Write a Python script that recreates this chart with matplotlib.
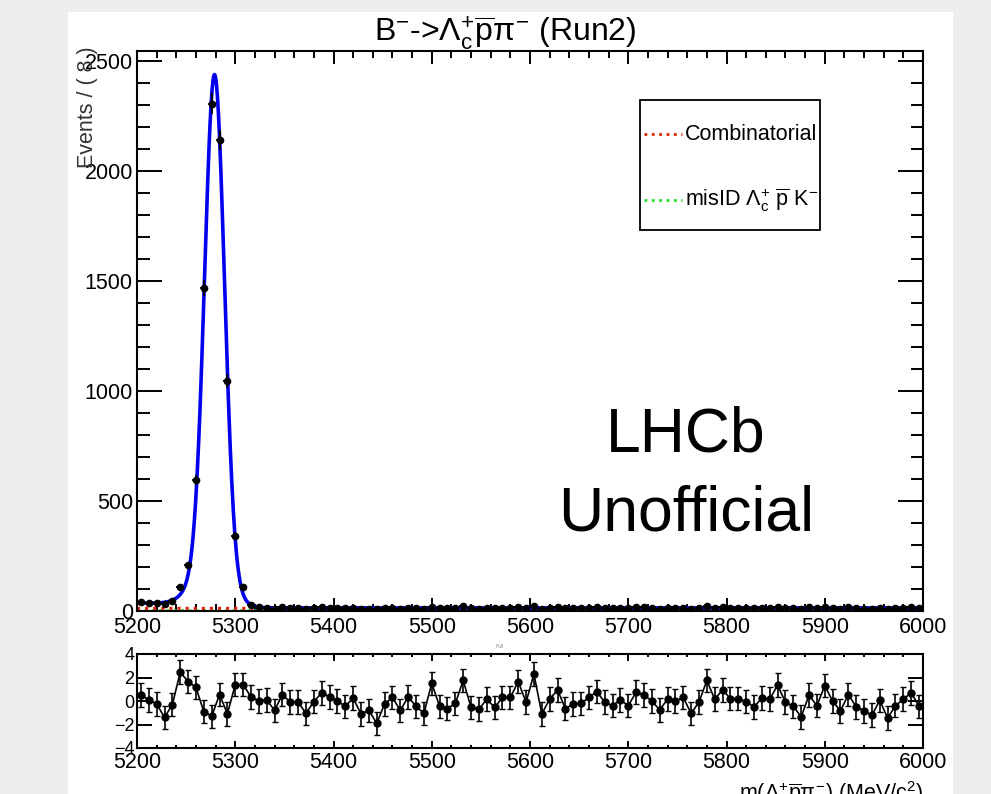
import numpy as np
import matplotlib.pyplot as plt
from matplotlib.patches import Rectangle
from matplotlib.ticker import MultipleLocator

plt.rcParams['font.family'] = ['Liberation Sans', 'DejaVu Sans']
plt.rcParams['mathtext.fontset'] = 'custom'
plt.rcParams['mathtext.rm'] = 'Liberation Sans'
plt.rcParams['mathtext.it'] = 'Liberation Sans'
plt.rcParams['mathtext.bf'] = 'Liberation Sans:bold'

# binning: 100 bins of 8 MeV between 5200 and 6000
bin_lo = 5200.
bin_w = 8.
n_bins = 100
centers = bin_lo + bin_w/2 + bin_w*np.arange(n_bins)

# events per bin
counts = [39, 36, 35, 30, 47, 109, 209, 595, 1468, 2305,
          2141, 1045, 341, 109, 29, 18, 15, 11, 16, 14,
          14, 10, 14, 17, 15, 14, 12, 15, 10, 11,
          7, 13, 15, 11, 15, 12, 10, 20, 12, 12,
          13, 21, 12, 11, 15, 12, 15, 15, 20, 14,
          23, 10, 15, 18, 12, 13, 13, 15, 17, 14,
          13, 14, 13, 17, 16, 14, 11, 15, 14, 15,
          10, 14, 21, 15, 18, 15, 15, 14, 12, 15,
          15, 19, 14, 12, 9, 16, 13, 19, 14, 11,
          16, 12, 11, 10, 14, 9, 13, 15, 17, 12]

# pulls from the lower panel
pulls = [0.5, 0.1, -0.25, -1.4, -0.3, 2.45, 1.65, 1.15, -0.9, -1.3,
         0.55, -1.1, 1.4, 1.4, 0.35, 0.0, 0.1, -0.8, 0.55, -0.1,
         -0.1, -1.05, -0.05, 0.7, 0.35, 0.0, -0.45, 0.25, -1.1, -0.8,
         -1.9, -0.25, 0.3, -0.8, 0.35, -0.45, -1.05, 1.5, -0.45, -0.65,
         -0.2, 1.75, -0.55, -0.7, 0.15, -0.55, 0.3, 0.3, 1.65, -0.1,
         2.3, -1.1, 0.15, 0.95, -0.65, -0.25, -0.2, 0.3, 0.8, -0.1,
         -0.4, 0.1, -0.4, 0.75, 0.5, 0.0, -0.75, 0.15, 0.0, 0.3,
         -1.05, -0.1, 1.75, 0.15, 0.95, 0.2, 0.2, -0.05, -0.5, 0.25,
         0.15, 1.35, -0.1, -0.45, -1.35, 0.5, -0.4, 1.3, 0.0, -0.85,
         0.55, -0.5, -0.85, -1.2, 0.05, -1.45, -0.4, 0.15, 0.7, -0.45]

# fit result (events per bin)
mu_core, sig_core, h_core = 5279., 10., 2250.
mu_wide, sig_wide, h_wide = 5274., 18., 180.
low_h, low_edge, low_w = 22., 5245., 10.
comb_level = 12.
misid_level = 2.

counts = np.array(counts, dtype=float)
pulls = np.array(pulls)

def total_model(m):
    core = h_core*np.exp(-0.5*((m-mu_core)/sig_core)**2)
    wide = h_wide*np.exp(-0.5*((m-mu_wide)/sig_wide)**2)
    low = low_h/(1+np.exp((m-low_edge)/low_w))
    return core + wide + low + comb_level + misid_level

mm = np.linspace(5200, 6000, 1601)

fig = plt.figure(figsize=(9.91, 7.94), dpi=100)
fig.patch.set_facecolor('#eeeeee')
fig.patches.append(Rectangle((68/991, 0), 885/991, 782/794, transform=fig.transFigure,
                             facecolor='white', edgecolor='none', zorder=-10))

ax = fig.add_axes([137/991, 1-611/794, 786/991, 560/794])
ax.plot(mm, np.full_like(mm, misid_level), color='#22dd22', ls=':', lw=2)
ax.plot(mm, np.full_like(mm, comb_level), color='#dd2200', ls=':', lw=2.2)
ax.plot(mm, total_model(mm), color='#0000ee', lw=2.6)
ax.errorbar(centers, counts, yerr=np.sqrt(counts), xerr=bin_w/2, fmt='o', color='black',
            ms=4.5, lw=1.3, capsize=0, zorder=5)
ax.set_xlim(5200, 6000)
ax.set_ylim(0, 2545)
ax.xaxis.set_major_locator(MultipleLocator(100))
ax.xaxis.set_minor_locator(MultipleLocator(20))
ax.yaxis.set_major_locator(MultipleLocator(500))
ax.yaxis.set_minor_locator(MultipleLocator(100))
ax.tick_params(which='both', direction='in', top=True, right=True, width=1.4, labelsize=15.5)
ax.tick_params(axis='x', which='major', length=9.5, pad=4)
ax.tick_params(axis='x', which='minor', length=5)
ax.tick_params(axis='y', which='major', length=18, pad=3)
ax.tick_params(axis='y', which='minor', length=9)
for s in ax.spines.values():
    s.set_linewidth(1.5)

# legend box
ax.add_patch(Rectangle((0.640, 0.680), 0.229, 0.2325, transform=ax.transAxes,
                       facecolor='white', edgecolor='black', lw=1.3, zorder=6))
ax.plot([0.645, 0.693], [0.851, 0.851], transform=ax.transAxes, color='#dd2200', ls=':', lw=2, zorder=7)
ax.plot([0.645, 0.693], [0.734, 0.734], transform=ax.transAxes, color='#22dd22', ls=':', lw=2, zorder=7)
ax.text(0.697, 0.851, 'Combinatorial', transform=ax.transAxes, fontsize=15.5,
        va='center', ha='left', zorder=7)
ax.text(0.697, 0.734, r'misID $\Lambda_{c}^{+}\ \overline{p}\ $K$^{-}$', transform=ax.transAxes,
        fontsize=15.5, va='center', ha='left', zorder=7)

ax.text(0.698, 0.284, 'LHCb', transform=ax.transAxes, fontsize=45, ha='center', va='baseline')
ax.text(0.698, 0.144, 'Unofficial', transform=ax.transAxes, fontsize=45, ha='center', va='baseline')

fig.text(505/991, 1-42/794, r'B$^{-}$->$\Lambda_{c}^{+}\overline{p}\pi^{-}$ (Run2)', fontsize=23,
         ha='center', va='baseline')
fig.text(88/991, 1-46/794, 'Events / ( 8 )', rotation=90, fontsize=15.5, ha='center', va='top',
         color='#333333')

# pull panel
axp = fig.add_axes([137/991, 1-748/794, 786/991, 94/794])
axp.errorbar(centers, pulls, yerr=np.ones_like(pulls), fmt='o-', color='black', ms=5,
             lw=1.2, capsize=2, zorder=5)
axp.set_xlim(5200, 6000)
axp.set_ylim(-4, 4)
axp.xaxis.set_major_locator(MultipleLocator(100))
axp.xaxis.set_minor_locator(MultipleLocator(20))
axp.yaxis.set_major_locator(MultipleLocator(2))
axp.tick_params(which='both', direction='in', top=True, right=True, width=1.4)
axp.tick_params(axis='x', which='major', length=5, labelsize=15.5, pad=3)
axp.tick_params(axis='x', which='minor', length=2.5)
axp.tick_params(axis='y', which='major', length=11, labelsize=13, pad=2)
for s in axp.spines.values():
    s.set_linewidth(1.5)
fig.text(500/991, 1-647/794, 'Pull', fontsize=3.5, color='#888888', ha='center', va='center')
fig.text(923/991, 1-779/794, r'm($\Lambda_{c}^{+}\overline{p}\pi^{-}$) (MeV/c$^{2}$)',
         fontsize=15.5, ha='right', va='top')

plt.savefig('out.png', dpi=100)
